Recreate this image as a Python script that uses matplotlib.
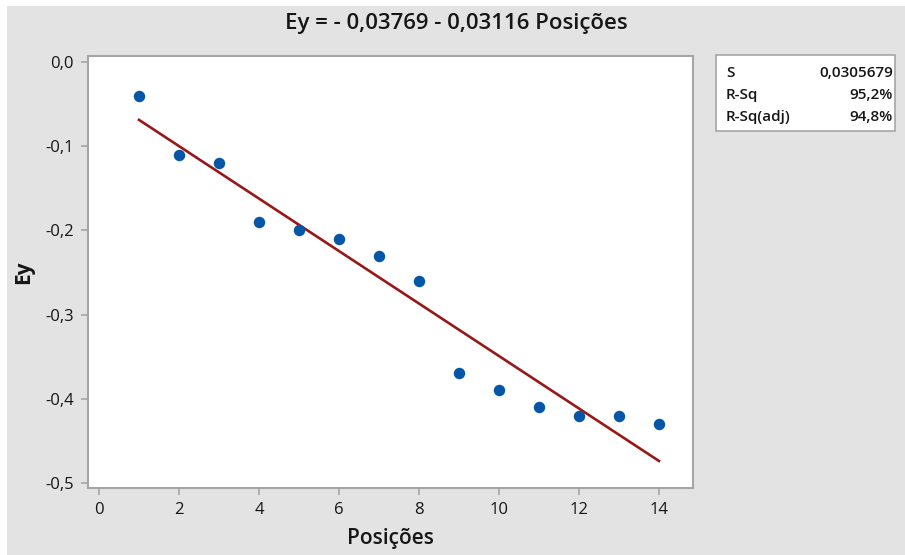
import matplotlib
matplotlib.use('Agg')
import matplotlib.pyplot as plt
import numpy as np

posicoes = [1, 2, 3, 4, 5, 6, 7, 8, 9, 10, 11, 12, 13, 14]
ey = [-0.04, -0.11, -0.12, -0.19, -0.20, -0.21, -0.23, -0.26,
      -0.37, -0.39, -0.41, -0.42, -0.42, -0.43]
intercept = -0.03769
slope = -0.03116

xticks = [0, 2, 4, 6, 8, 10, 12, 14]
yticks = [0.0, -0.1, -0.2, -0.3, -0.4, -0.5]
ytick_labels = ['0,0', '-0,1', '-0,2', '-0,3', '-0,4', '-0,5']

stats_names = ['S', 'R-Sq', 'R-Sq(adj)']
stats_values = ['0,0305679', '95,2%', '94,8%']

plt.rcParams['font.family'] = ['Open Sans', 'DejaVu Sans']

bg = '#e3e3e3'
fig = plt.figure(figsize=(9.05, 5.55), dpi=100)
fig.patch.set_facecolor('white')
# gray panel (leaves a thin white strip at top and left)
fig.patches.append(plt.Rectangle((7 / 905, 0), 1, 1 - 6 / 555, transform=fig.transFigure,
                                 facecolor=bg, edgecolor='none', zorder=-10))

ax = fig.add_axes([88 / 905, 1 - 488 / 555, 605 / 905, 432 / 555])
ax.set_facecolor('white')

ax.scatter(posicoes, ey, s=68, color='#0656a8', zorder=3, linewidths=0)
xf = np.array([posicoes[0], posicoes[-1]])
ax.plot(xf, intercept + slope * xf, color='#981818', lw=1.9, zorder=2)

ax.set_xlim(-0.275, 14.85)
ax.set_ylim(-0.506, 0.007)
ax.set_xticks(xticks)
ax.set_xticklabels([str(t) for t in xticks])
ax.set_yticks(yticks)
ax.set_yticklabels(ytick_labels)

for s in ax.spines.values():
    s.set_color('#a6a6a6')
    s.set_linewidth(1.5)
ax.tick_params(direction='out', length=5, width=1.2, color='#a6a6a6',
               labelsize=12, labelcolor='#161616', pad=5)

ax.set_xlabel('Posições', fontsize=15, fontweight='semibold', color='#161616', labelpad=7)
ax.set_ylabel('Ey', fontsize=15, fontweight='bold', color='#161616', labelpad=8)
fig.text(456 / 905, 1 - 23 / 555, 'Ey = - 0,03769 - 0,03116 Posições', fontsize=16,
         fontweight='semibold', color='#161616', ha='center', va='center')

# stats box
fig.patches.append(plt.Rectangle((716 / 905, 1 - 131 / 555), 179 / 905, 76 / 555,
                                 transform=fig.transFigure, facecolor='white',
                                 edgecolor='#a6a6a6', lw=1.2))
for i, (n, v) in enumerate(zip(stats_names, stats_values)):
    y = 1 - (73 + 22 * i) / 555
    fig.text(726 / 905, y, n, fontsize=11, fontweight='semibold', color='#161616',
             ha='left', va='center')
    fig.text(893 / 905, y, v, fontsize=11, fontweight='semibold', color='#161616',
             ha='right', va='center')

fig.savefig('out.png', dpi=100, facecolor=fig.get_facecolor())
